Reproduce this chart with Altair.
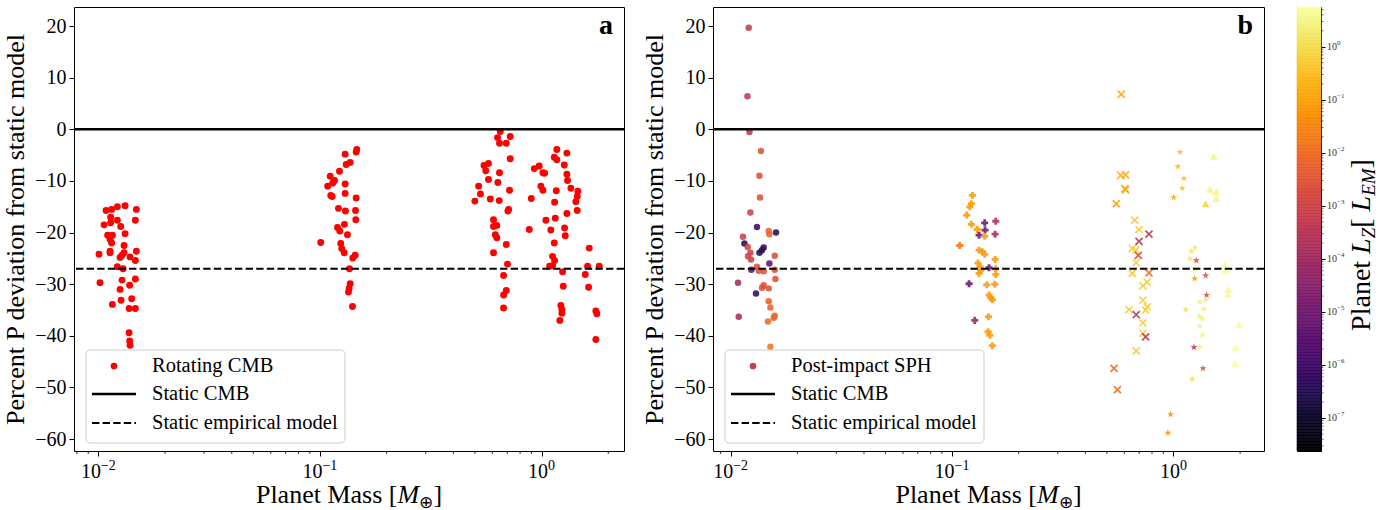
import altair as alt
import pandas as pd
import numpy as np

# ------------------------------------------------------------------
# Panel a : rotating CMB models
# ------------------------------------------------------------------
mass_a = [
    0.01083, 0.01148, 0.01218, 0.01320, 0.01484, 0.01136, 0.01218, 0.01469, 0.01061, 0.01136,
    0.01261, 0.01320, 0.01101, 0.01157, 0.01129, 0.01148, 0.01306, 0.01007, 0.01129, 0.01129,
    0.01306, 0.01253, 0.01279, 0.01390, 0.01484, 0.01469, 0.01218, 0.01293, 0.01017, 0.01279,
    0.01469, 0.01384, 0.01253, 0.01157, 0.01266, 0.01414, 0.01376, 0.01469, 0.01376, 0.01384,
    0.01390,
    0.1299, 0.1457, 0.1466, 0.1369, 0.1313, 0.1225, 0.1112, 0.1163, 0.1142, 0.1084,
    0.1299, 0.1119, 0.1135, 0.1299, 0.1457, 0.1212, 0.1303, 0.1447, 0.1451, 0.1290,
    0.1200, 0.1229, 0.1331, 0.1008, 0.1241, 0.1254, 0.1286, 0.1442, 0.1406, 0.1359,
    0.1369, 0.1354, 0.1345, 0.1402,
    0.651, 0.633, 0.646, 0.693, 0.722, 0.722, 0.576, 0.646, 0.576, 0.635,
    0.717, 0.587, 0.644, 0.710, 0.705, 0.607, 0.628, 0.607, 0.618, 0.628,
    0.693, 0.607, 0.702, 0.674, 0.693, 0.674, 0.674,
    0.52, 0.50, 0.55, 0.56, 0.53,
    0.899, 0.880, 0.927, 0.976, 1.014, 1.032, 0.993, 1.014, 1.046, 1.101,
    1.141, 1.121, 1.145, 1.087, 1.121, 1.172, 1.141, 1.172, 1.301, 1.266,
    1.301, 1.310, 1.356, 1.458, 1.449, 1.428, 1.449, 1.301, 1.165, 1.145,
    1.153, 1.270, 1.279, 1.244, 1.253, 1.222, 1.235, 1.209, 1.235,
    1.642, 1.613, 1.821, 1.575, 1.630, 1.758, 1.776, 1.758,
]
dev_a = [
    -15.7, -15.5, -15.0, -14.8, -15.5, -17.0, -17.6, -17.6, -18.5, -18.1,
    -18.8, -20.2, -20.5, -20.5, -21.3, -22.0, -22.5, -24.2, -23.6, -23.9,
    -23.9, -24.8, -24.4, -24.7, -23.6, -25.4, -26.6, -27.0, -29.7, -29.2,
    -29.0, -30.2, -31.0, -33.9, -33.1, -32.8, -34.7, -34.7, -39.4, -41.0,
    -41.8,
    -4.8, -4.4, -3.9, -6.4, -6.8, -8.1, -9.1, -9.9, -10.4, -11.0,
    -10.6, -12.8, -13.0, -12.4, -13.3, -15.3, -15.8, -15.7, -17.5, -18.4,
    -19.0, -19.7, -20.4, -21.9, -22.1, -23.1, -23.9, -24.4, -24.9, -27.0,
    -29.9, -30.8, -31.5, -34.3,
    -0.4, -1.6, -2.7, -2.7, -1.4, -5.7, -6.6, -8.4, -9.7, -10.3,
    -11.8, -13.5, -13.8, -15.5, -15.8, -17.5, -18.6, -18.8, -20.4, -21.0,
    -22.3, -23.9, -26.1, -28.3, -31.2, -32.1, -34.6,
    -11.0, -13.9, -7.0, -8.0, -12.5,
    -13.4, -19.4, -7.6, -7.1, -8.4, -8.5, -11.0, -11.8, -17.6, -19.5,
    -22.0, -24.6, -25.4, -26.5, -26.4, -3.9, -5.4, -5.9, -4.6, -6.9,
    -8.7, -9.9, -11.4, -12.0, -13.0, -14.0, -15.7, -16.3, -11.9, -14.1,
    -17.2, -19.1, -20.6, -27.6, -30.4, -34.1, -34.9, -37.0, -35.6,
    -23.0, -26.5, -26.5, -28.1, -30.6, -35.2, -35.7, -40.7,
]

# ------------------------------------------------------------------
# Panel b : post-impact SPH planets (log10 of L_Z for colour)
# ------------------------------------------------------------------
mass_b_circle = [
    0.01206, 0.01190, 0.01215, 0.01370, 0.01348, 0.01356, 0.01227, 0.01314, 0.01485, 0.01495,
    0.01602, 0.01136, 0.01153, 0.01193, 0.01409, 0.01384, 0.01348, 0.01227, 0.01197, 0.01235,
    0.01581, 0.01495, 0.01314, 0.01240, 0.01338, 0.01409, 0.01581, 0.01592, 0.01079, 0.01409,
    0.01384, 0.01485, 0.01301, 0.01485, 0.01511, 0.01581, 0.01564, 0.01474, 0.01087, 0.01511,
]
dev_b_circle = [
    19.7, 6.4, -0.5, -4.2, -9.0, -13.2, -16.1, -18.9, -19.7, -20.3,
    -20.0, -20.8, -22.1, -22.8, -22.9, -23.4, -23.9, -23.9, -24.6, -25.2,
    -24.5, -26.0, -26.6, -27.2, -27.4, -27.5, -27.2, -29.0, -29.7, -30.2,
    -30.7, -30.8, -31.8, -33.3, -34.5, -36.1, -36.5, -37.2, -36.3, -42.1,
]
loglz_b_circle = [
    -3.3, -3.3, -3.3, -2.6, -2.6, -2.6, -3.0, -6.0, -2.2, -2.2,
    -6.4, -3.0, -6.4, -3.0, -6.4, -6.4, -6.4, -3.0, -3.0, -3.0,
    -2.6, -5.4, -2.6, -5.4, -2.6, -2.6, -2.6, -2.6, -3.9, -2.6,
    -2.6, -2.6, -6.2, -2.2, -2.2, -2.2, -2.2, -2.0, -3.9, -1.8,
]

mass_b_plus = [
    0.1235, 0.1222, 0.1202, 0.1165, 0.1222, 0.1404, 0.1575, 0.1301, 0.1409, 0.1324,
    0.1404, 0.1564, 0.1083, 0.1324, 0.1370, 0.1404, 0.1564, 0.1310, 0.1338, 0.1469,
    0.1575, 0.1348, 0.1324, 0.1575, 0.1193, 0.1435, 0.1559, 0.1469, 0.1495, 0.1520,
    0.1266, 0.1459, 0.1454, 0.1481, 0.1520,
]
dev_b_plus = [
    -12.8, -14.4, -15.0, -16.6, -18.4, -18.1, -17.8, -19.4, -19.5, -20.5,
    -20.7, -20.3, -22.5, -23.4, -23.7, -24.2, -25.2, -25.9, -26.6, -26.8,
    -27.0, -27.3, -27.9, -28.1, -29.9, -30.1, -30.0, -32.1, -32.6, -33.0,
    -37.0, -36.3, -39.2, -39.9, -41.9,
]
loglz_b_plus = [
    -1.1, -1.1, -1.1, -1.1, -1.1, -5.1, -3.9, -1.1, -5.1, -5.1,
    -1.1, -3.9, -1.8, -1.1, -1.1, -1.1, -1.1, -1.1, -1.1, -5.1,
    -1.1, -1.1, -1.1, -1.1, -5.1, -1.1, -1.1, -1.1, -1.1, -1.1,
    -4.3, -1.1, -1.1, -1.1, -1.1,
]

mass_b_x = [
    0.581, 0.578, 0.608, 0.604, 0.608, 0.552, 0.668, 0.699, 0.775, 0.699,
    0.652, 0.675, 0.694, 0.679, 0.652, 0.775, 0.761, 0.728, 0.728, 0.761,
    0.749, 0.630, 0.679, 0.728, 0.728, 0.749, 0.679, 0.539, 0.558,
]
dev_b_x = [
    6.8, -8.9, -8.8, -11.5, -11.7, -14.4, -17.6, -19.4, -20.3, -21.7,
    -23.1, -23.4, -24.4, -25.8, -27.9, -27.8, -29.6, -30.3, -33.1, -34.4,
    -35.0, -34.9, -35.9, -37.5, -39.5, -40.2, -42.9, -46.3, -50.4,
]
loglz_b_x = [
    -0.8, -0.8, -0.8, -0.8, -0.8, -1.0, -0.3, -0.3, -3.4, -3.4,
    -0.2, -0.2, -2.7, -0.2, -0.3, -1.9, -0.2, -0.2, -0.2, -0.2,
    -0.2, -0.3, -3.4, -0.2, -0.2, -3.4, -0.3, -1.9, -1.9,
]

mass_b_star = [
    1.070, 1.048, 1.115, 1.096, 1.002, 1.203, 1.251, 1.187, 1.268, 1.247,
    1.398, 1.247, 1.412, 1.317, 1.398, 1.373, 1.135, 1.313, 1.349, 1.313,
    1.349, 1.313, 1.238, 1.359, 1.216, 0.971, 0.944,
]
dev_b_star = [
    -4.4, -7.2, -9.5, -11.4, -13.2, -23.6, -22.9, -25.0, -25.4, -27.0,
    -28.3, -28.9, -32.1, -33.4, -33.1, -34.8, -34.9, -36.3, -36.7, -38.1,
    -39.9, -42.1, -42.2, -46.3, -48.4, -55.2, -58.8,
]
loglz_b_star = [
    -0.5, -0.6, -0.5, -0.4, -0.8, 0.2, 0.2, 0.2, -2.7, 0.3,
    -2.7, -1.2, -2.7, 0.4, 0.4, 0.4, 0.0, 0.4, 0.4, 0.4,
    0.4, 0.4, -3.3, -2.7, 0.1, -1.3, -1.3,
]

mass_b_tri = [1.524, 1.462, 1.560, 1.560, 1.398, 1.703, 1.720, 1.768, 1.756, 1.975, 1.909, 1.896]
dev_b_tri = [-5.2, -11.6, -12.1, -13.4, -14.4, -26.2, -27.2, -31.0, -32.0, -37.8, -42.2, -45.3]
loglz_b_tri = [0.5, 0.5, 0.5, 0.5, -0.1, 0.6, 0.6, 0.6, 0.6, 0.7, 0.7, 0.7]

# reference lines
static_cmb = [0.0]
static_empirical = [-27.0]

# axis / scale settings
y_ticks = [-60, -50, -40, -30, -20, -10, 0, 10, 20]
x_major = [0.01, 0.1, 1.0]
cb_exps = [-7, -6, -5, -4, -3, -2, -1, 0]
Y_DOM = [-62.3, 23.7]
XA_DOM = [10 ** -2.11, 10 ** 0.372]
XB_DOM = [10 ** -2.08, 10 ** 0.409]
LOG_LZ_MIN, LOG_LZ_MAX = -7.62, 0.75

# ------------------------------------------------------------------
FONT = "Liberation Serif"
H = 444
W_A = 550
W_B = 551
CB_W = 24
TITLE_SIZE = 26
ONE = pd.DataFrame({"k": [0]})

XSTROKE = "M-1,-1L1,1M-1,1L1,-1"
STARPATH = ("M0,-1L0.225,-0.309L0.951,-0.309L0.363,0.118L0.588,0.809L0,0.382"
            "L-0.588,0.809L-0.363,0.118L-0.951,-0.309L-0.225,-0.309Z")

CW = {" ": .25, "P": .556, "l": .278, "a": .444, "n": .5, "e": .444, "t": .278, "M": .889,
      "s": .389, "[": .333, "]": .333, "\u2295": .84, "L": .611, "Z": .611, "E": .611}
CWI = {"L": .556, "Z": .556, "E": .611, "M": .833}


def run_w(text, size, italic):
    return sum((CWI.get(c, CW.get(c, .5)) if italic else CW.get(c, .5)) for c in text) * size


def text_run(pieces, cx, cy, angle=0):
    total = sum(run_w(t, s, it) for t, s, it, sh in pieces)
    pos = -total / 2
    out = []
    for t, s, it, sh in pieces:
        if angle == 0:
            x, y = cx + pos, cy + sh
        else:
            x, y = cx + sh, cy - pos
        out.append(
            alt.Chart(ONE).mark_text(
                font=FONT, fontSize=s, fontStyle="italic" if it else "normal",
                align="left", baseline="alphabetic", angle=angle, color="black",
            ).encode(x=alt.value(x), y=alt.value(y), text=alt.value(t))
        )
        pos += run_w(t, s, it)
    return out


ys = alt.Scale(domain=Y_DOM, nice=False, zero=False)
XAX = alt.Axis(values=x_major, labels=False, title=None, tickSize=5, tickWidth=1,
               tickColor="black", domain=False, grid=False)
YAX = alt.Axis(values=y_ticks, title="Percent P deviation from static model",
               titleFont=FONT, titleFontSize=TITLE_SIZE, titleFontWeight="normal", titleColor="black",
               labelFont=FONT, labelFontSize=20, labelColor="black", labelPadding=3,
               titlePadding=6, tickSize=5, tickWidth=1, tickColor="black",
               domain=False, grid=False)

cscale = alt.Scale(type="log", scheme="inferno", domain=[10 ** LOG_LZ_MIN, 10 ** LOG_LZ_MAX])


def decorations(xs, dom, W, label, dot_color, letter):
    lo_e = int(np.floor(np.log10(dom[0])))
    hi_e = int(np.ceil(np.log10(dom[1])))
    minor = [k * 10.0 ** e for e in range(lo_e, hi_e) for k in range(2, 10)
             if dom[0] <= k * 10.0 ** e <= dom[1]]
    layers = []
    layers.append(alt.Chart(pd.DataFrame({"y": static_cmb})).mark_rule(
        color="black", strokeWidth=2.5).encode(y=alt.Y("y:Q", scale=ys, axis=YAX)))
    layers.append(alt.Chart(pd.DataFrame({"y": static_empirical})).mark_rule(
        color="black", strokeWidth=2, strokeDash=[7.4, 3.2]).encode(y=alt.Y("y:Q", scale=ys, axis=YAX)))
    layers.append(alt.Chart(pd.DataFrame({"v": minor})).mark_rule(
        color="black", strokeWidth=0.8).encode(
        x=alt.X("v:Q", scale=xs, axis=XAX), y=alt.value(H), y2=alt.value(H + 3)))
    neg = pd.DataFrame({"v": [m for m in x_major if m < 0.5],
                        "sup": ["\u2212" + str(-int(round(np.log10(m)))) for m in x_major if m < 0.5]})
    zero = pd.DataFrame({"v": [m for m in x_major if m >= 0.5], "sup": ["0" for m in x_major if m >= 0.5]})
    for df, d10, dsup in [(neg, -17.5, 2.5), (zero, -13.5, 6.5)]:
        layers.append(alt.Chart(df).mark_text(
            font=FONT, fontSize=20, align="left", baseline="alphabetic", dx=d10, color="black",
            text="10").encode(x=alt.X("v:Q", scale=xs, axis=XAX), y=alt.value(H + 27)))
        layers.append(alt.Chart(df).mark_text(
            font=FONT, fontSize=14, align="left", baseline="alphabetic", dx=dsup, color="black").encode(
            x=alt.X("v:Q", scale=xs, axis=XAX), y=alt.value(H + 19), text="sup:N"))
    layers += text_run([("Planet Mass [", TITLE_SIZE, False, 0), ("M", TITLE_SIZE, True, 0),
                        ("\u2295", 17, False, 5), ("]", TITLE_SIZE, False, 0)], W / 2, H + 52)
    # legend box
    layers.append(alt.Chart(ONE).mark_rect(
        fill="white", fillOpacity=0.8, stroke="#cccccc", strokeWidth=1, cornerRadius=4).encode(
        x=alt.value(12), x2=alt.value(271), y=alt.value(343), y2=alt.value(436)))
    layers.append(alt.Chart(ONE).mark_circle(size=45, color=dot_color, opacity=1).encode(
        x=alt.value(40), y=alt.value(359)))
    layers.append(alt.Chart(ONE).mark_rule(color="black", strokeWidth=2.5).encode(
        x=alt.value(18), x2=alt.value(62), y=alt.value(387)))
    layers.append(alt.Chart(ONE).mark_rule(color="black", strokeWidth=2, strokeDash=[7.4, 3.2]).encode(
        x=alt.value(18), x2=alt.value(62), y=alt.value(416)))
    for txt, yy in [(label, 359), ("Static CMB", 387), ("Static empirical model", 416)]:
        layers.append(alt.Chart(ONE).mark_text(
            font=FONT, fontSize=20.5, align="left", baseline="middle", color="black").encode(
            x=alt.value(78), y=alt.value(yy), text=alt.value(txt)))
    layers.append(alt.Chart(ONE).mark_text(
        font=FONT, fontSize=28, fontWeight="bold", align="right", baseline="middle", color="black").encode(
        x=alt.value(W - 11), y=alt.value(19), text=alt.value(letter)))
    return layers


# ---------------- panel a ----------------
xs_a = alt.Scale(type="log", domain=XA_DOM, nice=False)
df_a = pd.DataFrame({"m": mass_a, "d": dev_a})
pts_a = alt.Chart(df_a).mark_circle(size=48, color="#ff0000", opacity=1).encode(
    x=alt.X("m:Q", scale=xs_a, axis=XAX), y=alt.Y("d:Q", scale=ys, axis=YAX))
panel_a = alt.layer(pts_a, *decorations(xs_a, XA_DOM, W_A, "Rotating CMB", "#ff0000", "a")).properties(
    width=W_A, height=H)

# ---------------- panel b ----------------
xs_b = alt.Scale(type="log", domain=XB_DOM, nice=False)
filled_groups = [("circle", mass_b_circle, dev_b_circle, loglz_b_circle),
                 ("plus", mass_b_plus, dev_b_plus, loglz_b_plus),
                 ("star", mass_b_star, dev_b_star, loglz_b_star),
                 ("triangle", mass_b_tri, dev_b_tri, loglz_b_tri)]
rows = []
for g, ms, ds, ls in filled_groups:
    for m, d, l in zip(ms, ds, ls):
        rows.append({"m": m, "d": d, "lz": 10.0 ** l, "grp": g})
df_b = pd.DataFrame(rows)
df_bx = pd.DataFrame({"m": mass_b_x, "d": dev_b_x, "lz": [10.0 ** l for l in loglz_b_x]})

GRP = ["circle", "plus", "star", "triangle"]
pts_b = alt.Chart(df_b).mark_point(filled=True, opacity=0.88).encode(
    x=alt.X("m:Q", scale=xs_b, axis=XAX),
    y=alt.Y("d:Q", scale=ys, axis=YAX),
    color=alt.Color("lz:Q", scale=cscale, legend=None),
    shape=alt.Shape("grp:N", scale=alt.Scale(domain=GRP,
                                             range=["circle", "cross", STARPATH, "triangle-up"]),
                    legend=None),
    size=alt.Size("grp:N", scale=alt.Scale(domain=GRP, range=[42, 64, 120, 64]), legend=None),
)
pts_bx = alt.Chart(df_bx).mark_point(filled=False, opacity=0.9, strokeWidth=1.7, size=50,
                                     shape=XSTROKE).encode(
    x=alt.X("m:Q", scale=xs_b, axis=XAX),
    y=alt.Y("d:Q", scale=ys, axis=YAX),
    color=alt.Color("lz:Q", scale=cscale, legend=None),
)
panel_b = alt.layer(pts_b, pts_bx,
                    *decorations(xs_b, XB_DOM, W_B, "Post-impact SPH", "#c93f50", "b")).properties(
    width=W_B, height=H)

# ---------------- colour bar ----------------
edges = np.linspace(LOG_LZ_MIN, LOG_LZ_MAX, 301)
df_cb = pd.DataFrame({"lo": 10 ** edges[:-1], "hi": 10 ** edges[1:],
                      "mid": 10 ** ((edges[:-1] + edges[1:]) / 2)})
lz_y = alt.Scale(type="log", domain=[10 ** LOG_LZ_MIN, 10 ** LOG_LZ_MAX], nice=False)
CBAX = alt.Axis(orient="right", values=[10.0 ** e for e in cb_exps], labels=False, title=None,
                tickSize=4, tickWidth=1, tickColor="black", domain=False, grid=False)
cb_rect = alt.Chart(df_cb).mark_rect(strokeWidth=0.6).encode(
    y=alt.Y("lo:Q", scale=lz_y, axis=CBAX), y2="hi:Q",
    x=alt.value(0), x2=alt.value(CB_W),
    color=alt.Color("mid:Q", scale=cscale, legend=None),
    stroke=alt.Stroke("mid:Q", scale=cscale, legend=None))
cb_minor_vals = [k * 10.0 ** e for e in range(-8, 1) for k in range(2, 10)
                 if 10 ** LOG_LZ_MIN <= k * 10.0 ** e <= 10 ** LOG_LZ_MAX]
cb_minor = alt.Chart(pd.DataFrame({"v": cb_minor_vals})).mark_rule(color="black", strokeWidth=0.6).encode(
    y=alt.Y("v:Q", scale=lz_y, axis=CBAX), x=alt.value(CB_W), x2=alt.value(CB_W + 2.5))
df_cbl = pd.DataFrame({"v": [10.0 ** e for e in cb_exps],
                       "sup": [("\u2212" + str(-e)) if e < 0 else str(e) for e in cb_exps]})
cb_l10 = alt.Chart(df_cbl).mark_text(font=FONT, fontSize=10, align="left", baseline="middle",
                                     color="#333333", text="10").encode(
    y=alt.Y("v:Q", scale=lz_y, axis=CBAX), x=alt.value(CB_W + 6))
cb_lsup = alt.Chart(df_cbl).mark_text(font=FONT, fontSize=7, align="left", baseline="middle",
                                      dx=10, dy=-4, color="#333333").encode(
    y=alt.Y("v:Q", scale=lz_y, axis=CBAX), x=alt.value(CB_W + 6), text="sup:N")
cb_title = text_run([("Planet ", 28, False, 0), ("L", 28, True, 0), ("Z", 19, True, 5),
                     (" [", 28, False, 0), ("L", 28, True, 0), ("EM", 19, True, 5),
                     ("]", 28, False, 0)], CB_W + 49, H / 2 + 16, angle=270)
cbar = alt.layer(cb_rect, cb_minor, cb_l10, cb_lsup, *cb_title).properties(width=CB_W, height=H)

right = alt.hconcat(panel_b, cbar, spacing=33, bounds="flush")
chart = alt.hconcat(panel_a, right, spacing=89, bounds="flush").properties(
    padding={"left": 2, "top": 6, "right": 5, "bottom": 2}
).configure_view(stroke="black", strokeWidth=1)

chart.save("out.html", embed_options={"renderer": "svg", "actions": False})
